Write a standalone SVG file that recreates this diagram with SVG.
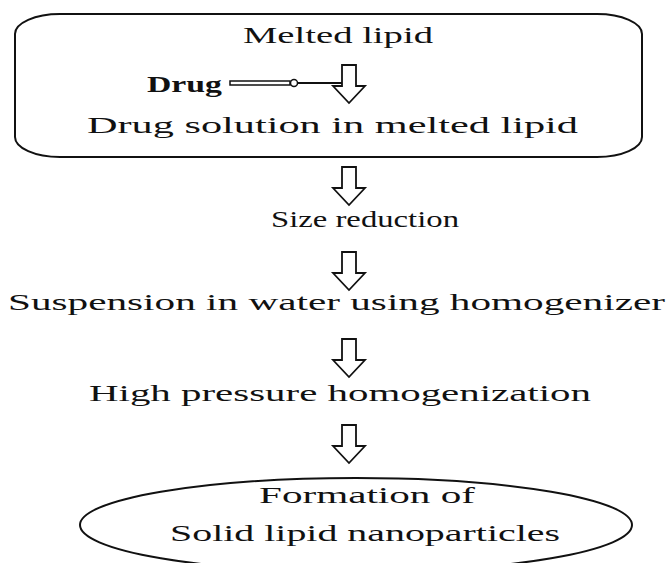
<svg xmlns="http://www.w3.org/2000/svg" width="670" height="563" viewBox="0 0 670 563">
<defs>
<style>
.t{font-family:"Liberation Serif","Times New Roman",serif;font-size:23px;fill:#111;}
.b{font-weight:bold;}
.shape{fill:none;stroke:#111;stroke-width:2;}
.arr{fill:#fff;stroke:#111;stroke-width:1.8;stroke-linejoin:miter;}
</style>
<path id="down" d="M-7,0 H7 V21 H16 L0,38 L-16,21 H-7 Z"/>
</defs>
<rect width="670" height="563" fill="#fff"/>
<g id="box-melted">
<rect class="shape" x="15" y="14" width="627" height="143" rx="45" ry="20"/>
<text class="t" x="243" y="43" textLength="190" lengthAdjust="spacingAndGlyphs">Melted lipid</text>
<text class="t" x="87" y="133" textLength="491" lengthAdjust="spacingAndGlyphs">Drug solution in melted lipid</text>
</g>
<g id="drug">
<text class="t b" x="147" y="92" textLength="75" lengthAdjust="spacingAndGlyphs">Drug</text>
</g>
<g id="size-reduction">
<text class="t" x="271" y="227" textLength="188" lengthAdjust="spacingAndGlyphs">Size reduction</text>
</g>
<g id="suspension">
<text class="t" x="8" y="310" textLength="657" lengthAdjust="spacingAndGlyphs">Suspension in water using homogenizer</text>
</g>
<g id="hph">
<text class="t" x="89" y="401" textLength="502" lengthAdjust="spacingAndGlyphs">High pressure homogenization</text>
</g>
<g id="sln">
<ellipse class="shape" cx="356" cy="525" rx="276" ry="47"/>
<text class="t" x="259" y="503" textLength="216" lengthAdjust="spacingAndGlyphs">Formation of</text>
<text class="t" x="170" y="541" textLength="390" lengthAdjust="spacingAndGlyphs">Solid lipid nanoparticles</text>
</g>
<g id="connectors">
<rect x="230" y="81" width="60" height="4" fill="#fff" stroke="#111" stroke-width="1.5"/>
<circle cx="294" cy="83" r="3.5" fill="#fff" stroke="#111" stroke-width="1.5"/>
<line x1="297.5" y1="83" x2="342" y2="83" stroke="#111" stroke-width="2"/>
<use href="#down" class="arr" x="349" y="65"/>
<use href="#down" class="arr" x="349" y="167"/>
<use href="#down" class="arr" x="349" y="252"/>
<use href="#down" class="arr" x="349" y="339"/>
<use href="#down" class="arr" x="349" y="425"/>
</g>
</svg>
